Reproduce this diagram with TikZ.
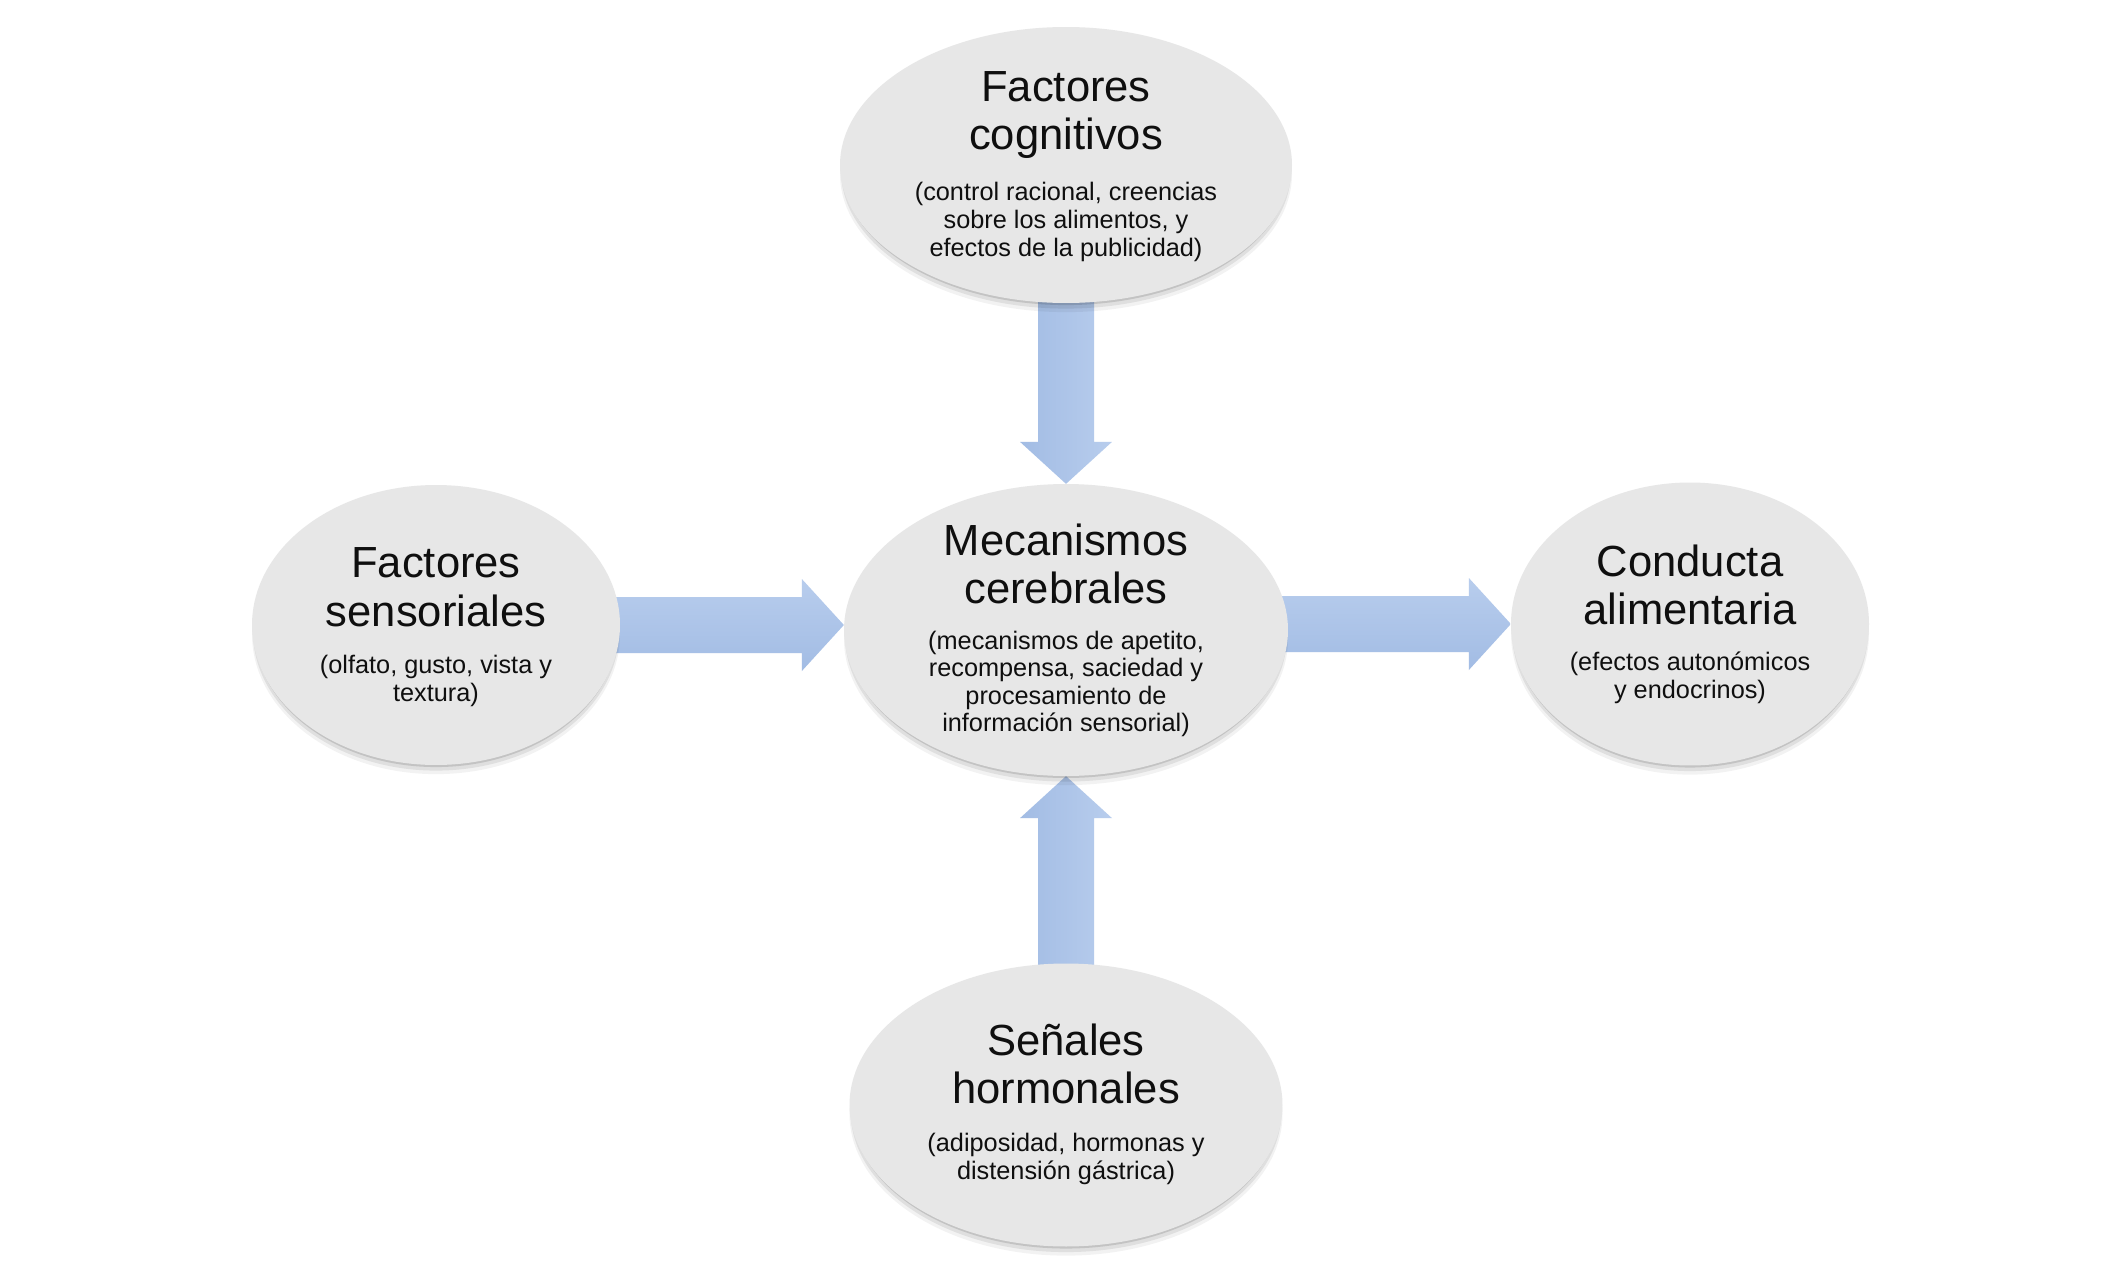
\documentclass[tikz,border=0pt]{standalone}
\usepackage{fontspec}
\setmainfont{Liberation Sans}
\usetikzlibrary{calc,shapes.geometric,shadows}
\pgfdeclarelayer{canvas}
\pgfdeclarelayer{arrows}
\pgfsetlayers{canvas,arrows,main}
\definecolor{ellfill}{RGB}{231,231,231}
\definecolor{arrA}{RGB}{184,205,237}
\definecolor{arrB}{RGB}{162,188,228}
\definecolor{txt}{RGB}{15,15,15}
\begin{document}
\begin{tikzpicture}[x=0.05cm,y=-0.05cm,
  bubble/.style={ellipse, inner sep=0pt, draw=none, fill=ellfill,
    general shadow={fill=black, opacity=0.05, shadow yshift=-13pt, shadow scale=1.0},
    general shadow={fill=black, opacity=0.08, shadow yshift=-9pt, shadow scale=0.995},
    general shadow={fill=black, opacity=0.12, shadow yshift=-5pt, shadow scale=0.99}},
  ttl/.style={align=center, inner sep=0pt, text=txt,
    font=\fontsize{62}{69}\selectfont},
  subt/.style={align=center, inner sep=0pt, text=txt,
    font=\fontsize{36}{39.3}\selectfont},
  harrow/.style={top color=arrA, bottom color=arrB},
  varrow/.style={left color=arrB, right color=arrA},
]
\path[use as bounding box] (0,0) rectangle (2112,1275);
\begin{pgfonlayer}{canvas}
  \fill[white] (0,0) rectangle (2112,1275);
\end{pgfonlayer}

% ellipses
\node[bubble, minimum width=22.6cm, minimum height=13.8cm] (cog) at (1066,165) {};
\node[bubble, minimum width=22.2cm, minimum height=14.6cm] (mec) at (1066,630) {};
\node[bubble, minimum width=18.4cm, minimum height=14.0cm] (sen) at (436,625) {};
\node[bubble, minimum width=17.9cm, minimum height=14.15cm] (con) at (1690,624) {};
\node[bubble, minimum width=21.65cm, minimum height=14.15cm] (hor) at (1066,1105) {};

% texts
\node[ttl]  (cogT) at ($(cog)+(0,-50)$) {Factores\\cognitivos};
\node[subt] (cogS) at ($(cog)+(0,57)$) {(control racional, creencias\\sobre los alimentos, y\\efectos de la publicidad)};
\node[ttl]  (mecT) at ($(mec)+(0,-66)$) {Mecanismos\\cerebrales};
\node[subt] (mecS) at ($(mec)+(0,54)$) {(mecanismos de apetito,\\recompensa, saciedad y\\procesamiento de\\información sensorial)};
\node[ttl]  (senT) at ($(sen)+(0,-38)$) {Factores\\sensoriales};
\node[subt] (senS) at ($(sen)+(0,56)$) {(olfato, gusto, vista y\\textura)};
\node[ttl]  (conT) at ($(con)+(0,-39)$) {Conducta\\alimentaria};
\node[subt] (conS) at ($(con)+(0,54)$) {(efectos autonómicos\\y endocrinos)};
\node[ttl]  (horT) at ($(hor)+(0,-41)$) {Señales\\hormonales};
\node[subt] (horS) at ($(hor)+(0,54)$) {(adiposidad, hormonas y\\distensión gástrica)};

% block arrows
\begin{pgfonlayer}{arrows}
  % top -> centre
  \coordinate (t1s) at ($(cog.south)+(0,-15)$);
  \coordinate (t1e) at (mec.north);
  \path[varrow] ($(t1s)+(-28,0)$) -- ($(t1e)+(-28,-42)$) -- ($(t1e)+(-46,-42)$) -- (t1e)
     -- ($(t1e)+(46,-42)$) -- ($(t1e)+(28,-42)$) -- ($(t1s)+(28,0)$) -- cycle;
  % bottom -> centre
  \coordinate (b1s) at ($(hor.north)+(0,15)$);
  \coordinate (b1e) at (mec.south);
  \path[varrow] ($(b1s)+(-28,0)$) -- ($(b1e)+(-28,42)$) -- ($(b1e)+(-46,42)$) -- (b1e)
     -- ($(b1e)+(46,42)$) -- ($(b1e)+(28,42)$) -- ($(b1s)+(28,0)$) -- cycle;
  % left -> centre
  \coordinate (l1s) at ($(sen.east)+(-15,0)$);
  \coordinate (l1e) at (mec.west |- sen.east);
  \path[harrow] ($(l1s)+(0,-28)$) -- ($(l1e)+(-42,-28)$) -- ($(l1e)+(-42,-46)$) -- (l1e)
     -- ($(l1e)+(-42,46)$) -- ($(l1e)+(-42,28)$) -- ($(l1s)+(0,28)$) -- cycle;
  % centre -> right
  \coordinate (r1s) at ($(mec.east |- con.west)+(-15,0)$);
  \coordinate (r1e) at (con.west);
  \path[harrow] ($(r1s)+(0,-28)$) -- ($(r1e)+(-42,-28)$) -- ($(r1e)+(-42,-46)$) -- (r1e)
     -- ($(r1e)+(-42,46)$) -- ($(r1e)+(-42,28)$) -- ($(r1s)+(0,28)$) -- cycle;
\end{pgfonlayer}
\end{tikzpicture}
\end{document}
